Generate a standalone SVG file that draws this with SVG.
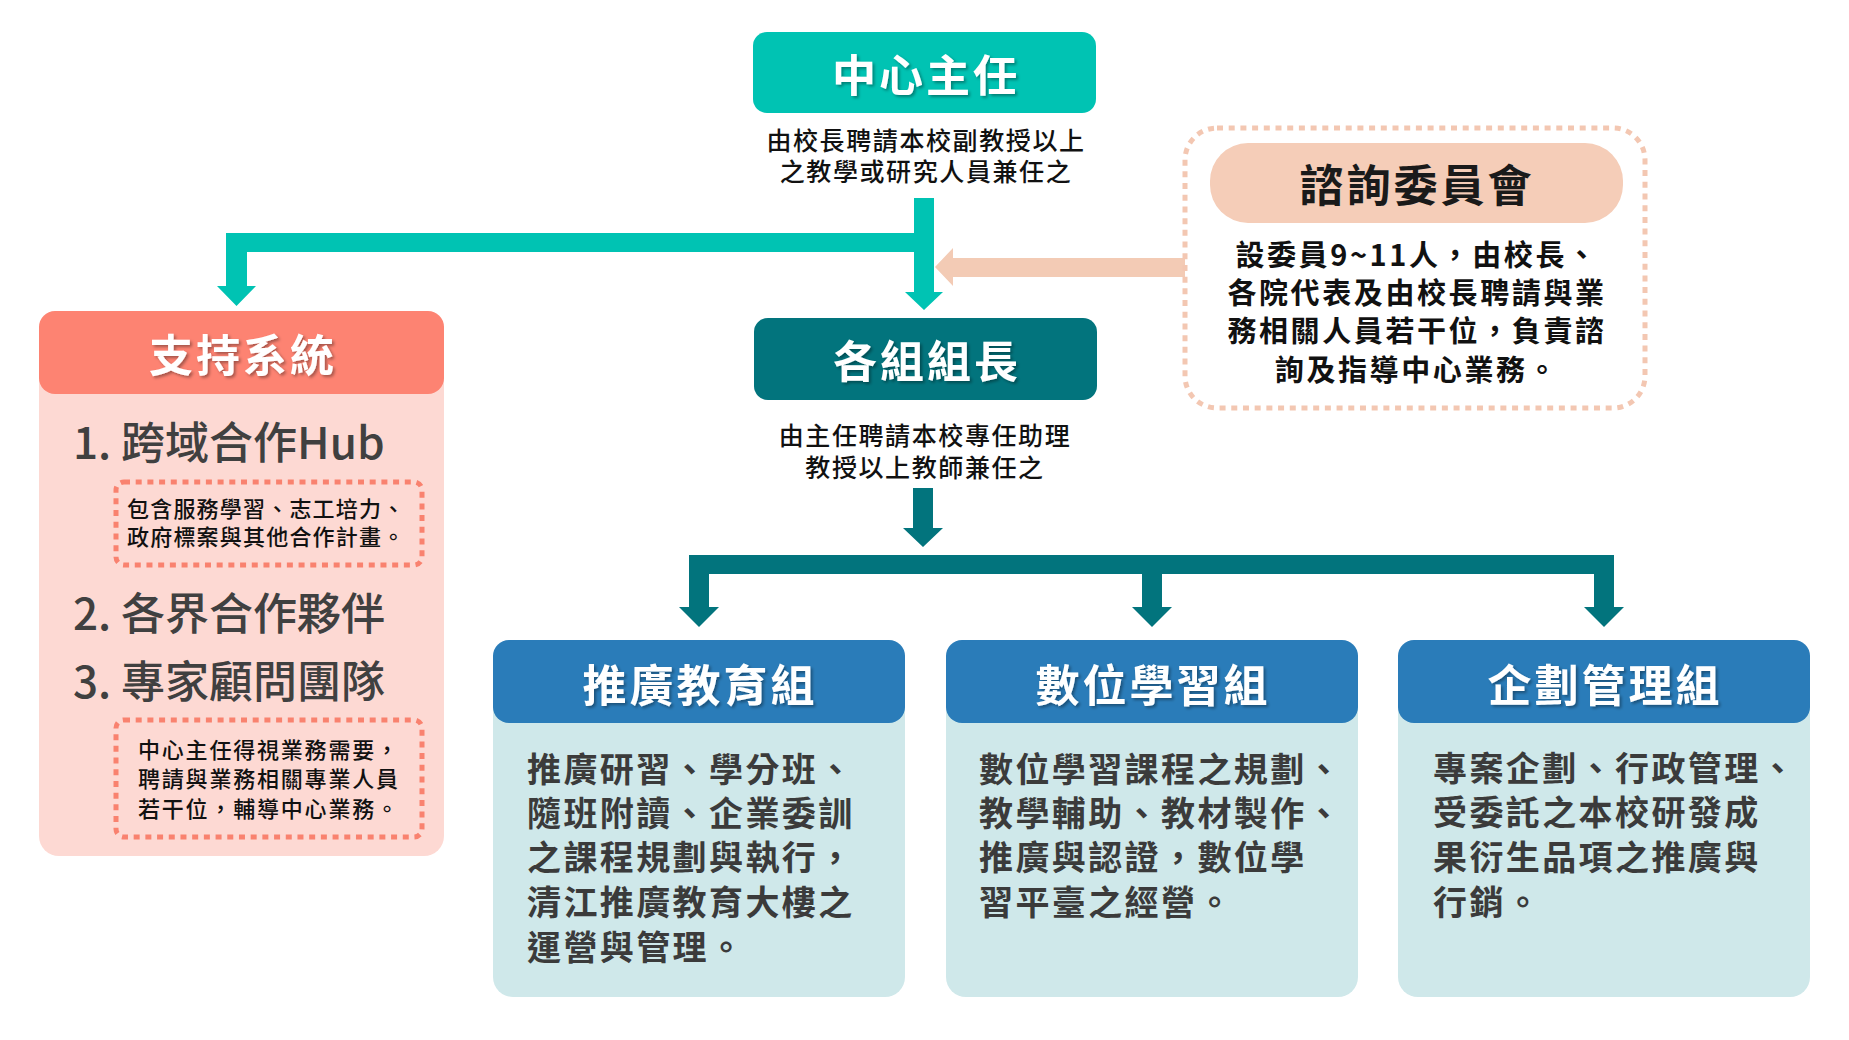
<svg xmlns="http://www.w3.org/2000/svg" width="1849" height="1040" viewBox="0 0 1849 1040">
<defs>
<filter id="sh" x="-10%" y="-20%" width="130%" height="150%">
<feDropShadow dx="2" dy="2" stdDeviation="1.5" flood-color="#000" flood-opacity="0.35"/>
</filter>
<style>
text{font-family:"Noto Sans CJK TC","Noto Sans CJK SC",sans-serif;}
.title{font-size:44px;font-weight:700;fill:#fff;text-anchor:middle;letter-spacing:3px;}
.sub{font-size:25px;font-weight:500;fill:#111;text-anchor:middle;letter-spacing:1.6px;}
.gbody{font-size:34px;font-weight:700;fill:#3b3b3b;letter-spacing:2.4px;}
.item{font-size:44px;font-weight:500;fill:#404040;}
.note{font-size:22px;font-weight:500;fill:#111;}
.dot{fill:none;stroke-width:5;stroke-dasharray:6 5.7;}
</style>
</defs>
<rect width="1849" height="1040" fill="#fff"/>

<g id="connectors">
<polygon fill="#00c3b3" points="914,198 934,198 934,292 943,292 924,310 905,292 914,292 914,252 247,252 247,286 256,286 236.5,306 217,286 226,286 226,233 914,233"/>
<polygon fill="#f3cbb5" points="1185,258 953,258 953,248 935,267 953,286 953,277 1185,277"/>
<polygon fill="#02747d" points="913,488 933,488 933,528 943,528 923,547 903,528 913,528"/>
<polygon fill="#02747d" points="689,555 1614,555 1614,607 1624,607 1604,627 1584,607 1594,607 1594,574 1162,574 1162,607 1172,607 1152,627 1132,607 1142,607 1142,574 709,574 709,607 719,607 699,627 679,607 689,607"/>
</g>

<g id="director">
<rect x="753" y="32" width="343" height="81" rx="14" fill="#00c3b3"/>
<text class="title" x="926" y="92" filter="url(#sh)">中心主任</text>
<text class="sub" x="926" y="150">由校長聘請本校副教授以上</text>
<text class="sub" x="926" y="181">之教學或研究人員兼任之</text>
</g>

<g id="leaders">
<rect x="754" y="318" width="343" height="82" rx="14" fill="#02747d"/>
<text class="title" x="927" y="378" filter="url(#sh)">各組組長</text>
<text class="sub" x="925" y="445">由主任聘請本校專任助理</text>
<text class="sub" x="925" y="477">教授以上教師兼任之</text>
</g>

<g id="committee">
<rect class="dot" x="1185" y="128" width="460" height="280" rx="32" stroke="#f3c7b2"/>
<rect x="1210" y="143" width="413" height="80" rx="38" fill="#f5cdb8"/>
<text x="1417" y="202" style="font-size:44px;font-weight:700;fill:#1a1a1a;text-anchor:middle;letter-spacing:3px;">諮詢委員會</text>
<g style="font-size:29px;font-weight:700;fill:#111;text-anchor:middle;letter-spacing:2.6px;">
<text x="1417" y="266">設委員9~11人，由校長、</text>
<text x="1417" y="304">各院代表及由校長聘請與業</text>
<text x="1417" y="342">務相關人員若干位，負責諮</text>
<text x="1417" y="381">詢及指導中心業務。</text>
</g>
</g>

<g id="support">
<rect x="39" y="311" width="405" height="545" rx="20" fill="#fdd9d3"/>
<rect x="39" y="311" width="405" height="83" rx="16" fill="#fd8372"/>
<text class="title" x="243" y="372" filter="url(#sh)">支持系統</text>
<text class="item" x="73" y="459">1. 跨域合作Hub</text>
<rect class="dot" x="116" y="482" width="306" height="83" rx="8" stroke="#f9826f"/>
<text class="note" x="127" y="517" style="letter-spacing:1.2px;">包含服務學習、志工培力、</text>
<text class="note" x="127" y="545" style="letter-spacing:1.2px;">政府標案與其他合作計畫。</text>
<text class="item" x="73" y="630">2. 各界合作夥伴</text>
<text class="item" x="73" y="698">3. 專家顧問團隊</text>
<rect class="dot" x="116" y="720" width="306" height="117" rx="8" stroke="#f9826f"/>
<text class="note" x="138" y="758" style="letter-spacing:1.8px;">中心主任得視業務需要，</text>
<text class="note" x="138" y="787" style="letter-spacing:1.8px;">聘請與業務相關專業人員</text>
<text class="note" x="138" y="817" style="letter-spacing:1.8px;">若干位，輔導中心業務。</text>
</g>

<g id="extension">
<rect x="493" y="640" width="412" height="357" rx="20" fill="#cfe8ea"/>
<rect x="493" y="640" width="412" height="83" rx="16" fill="#2a7cb9"/>
<text class="title" x="700" y="702" filter="url(#sh)">推廣教育組</text>
<text class="gbody" x="527" y="782">推廣研習、學分班、</text>
<text class="gbody" x="527" y="826">隨班附讀、企業委訓</text>
<text class="gbody" x="527" y="870">之課程規劃與執行，</text>
<text class="gbody" x="527" y="915">清江推廣教育大樓之</text>
<text class="gbody" x="527" y="960">運營與管理。</text>
</g>

<g id="digital">
<rect x="946" y="640" width="412" height="357" rx="20" fill="#cfe8ea"/>
<rect x="946" y="640" width="412" height="83" rx="16" fill="#2a7cb9"/>
<text class="title" x="1153" y="702" filter="url(#sh)">數位學習組</text>
<text class="gbody" x="979" y="782">數位學習課程之規劃、</text>
<text class="gbody" x="979" y="826">教學輔助、教材製作、</text>
<text class="gbody" x="979" y="870">推廣與認證，數位學</text>
<text class="gbody" x="979" y="915">習平臺之經營。</text>
</g>

<g id="planning">
<rect x="1398" y="640" width="412" height="357" rx="20" fill="#cfe8ea"/>
<rect x="1398" y="640" width="412" height="83" rx="16" fill="#2a7cb9"/>
<text class="title" x="1605" y="702" filter="url(#sh)">企劃管理組</text>
<text class="gbody" x="1433" y="781">專案企劃、行政管理、</text>
<text class="gbody" x="1433" y="825">受委託之本校研發成</text>
<text class="gbody" x="1433" y="870">果衍生品項之推廣與</text>
<text class="gbody" x="1433" y="915">行銷。</text>
</g>
</svg>
